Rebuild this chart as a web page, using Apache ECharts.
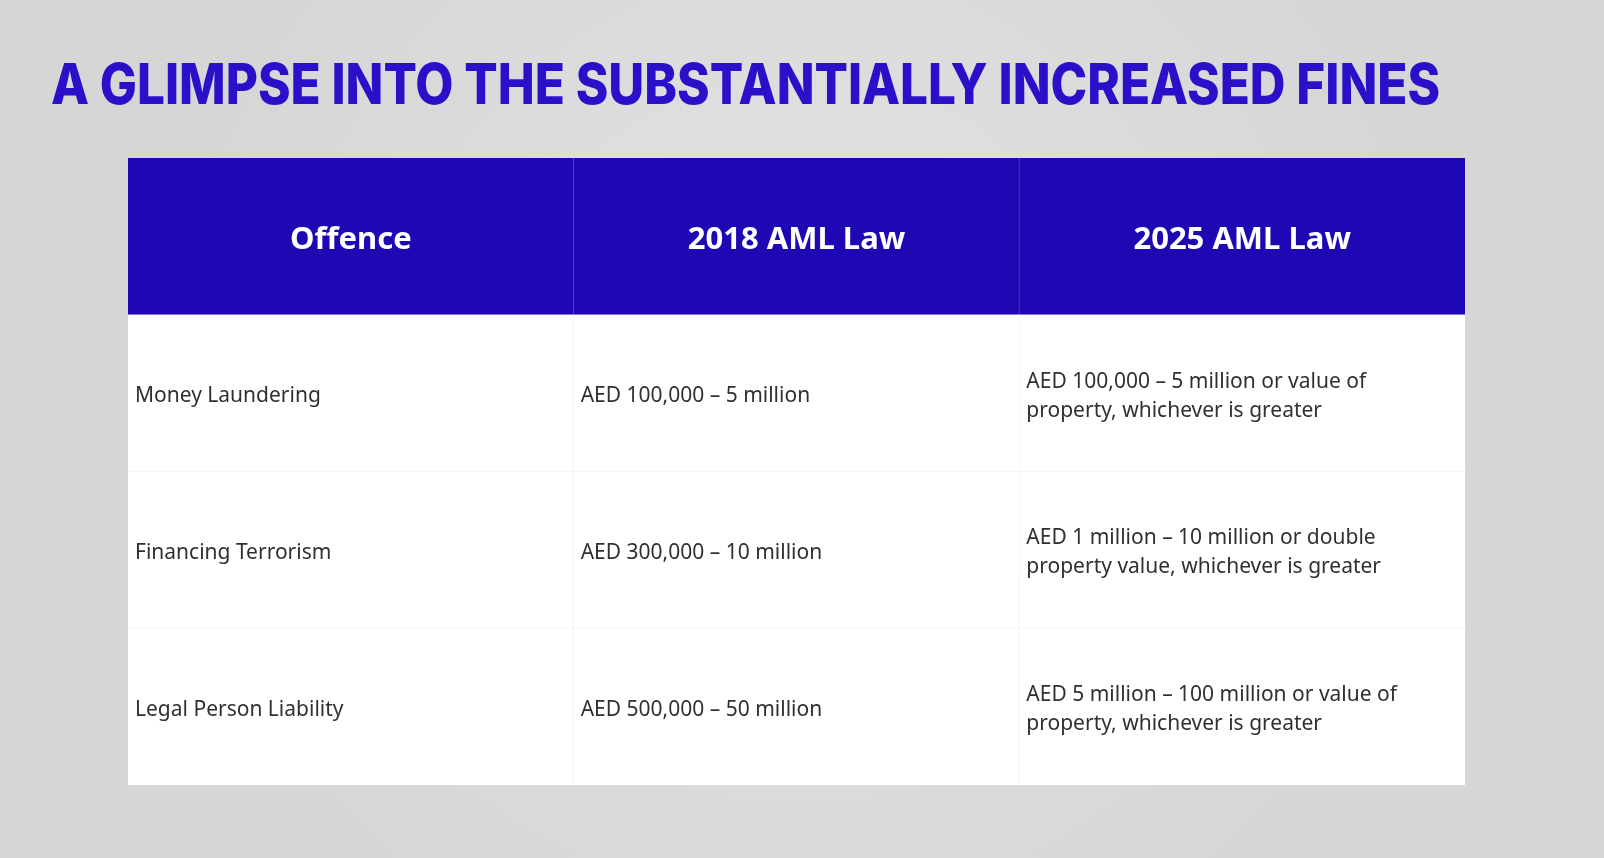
<!DOCTYPE html>
<html>
<head>
<meta charset="utf-8">
<title>AML fines</title>
<script src="https://cdn.jsdelivr.net/npm/echarts@6/dist/echarts.min.js"></script>
<style>
  html, body { margin: 0; padding: 0; background: #dcdcdc; }
  #main { width: 1604px; height: 858px; }
</style>
</head>
<body>
<div id="main"></div>
<script>
// table content
var titleText = 'A GLIMPSE INTO THE SUBSTANTIALLY INCREASED FINES';
var columns = ['Offence', '2018 AML Law', '2025 AML Law'];
var offences = ['Money Laundering', 'Financing Terrorism', 'Legal Person Liability'];
var fines2018 = [
  'AED 100,000 – 5 million',
  'AED 300,000 – 10 million',
  'AED 500,000 – 50 million'
];
var fines2025 = [
  'AED 100,000 – 5 million or value of\nproperty, whichever is greater',
  'AED 1 million – 10 million or double\nproperty value, whichever is greater',
  'AED 5 million – 100 million or value of\nproperty, whichever is greater'
];
var rows = ['header'].concat(offences);

var HEAD_BLUE = '#1e08b4';

// cells: [col, row, text]
var cells = [];
columns.forEach(function (c, i) { cells.push([i, 0, c]); });
offences.forEach(function (o, r) {
  cells.push([0, r + 1, o]);
  cells.push([1, r + 1, fines2018[r]]);
  cells.push([2, r + 1, fines2025[r]]);
});

// squeeze the title to the width it has in the picture
var titleFont = '800 56px Inter';
var ctx = document.createElement('canvas').getContext('2d');
ctx.font = titleFont;
var titleScale = 1389 / ctx.measureText(titleText).width;

function renderCell(params, api) {
  var col = api.value(0), row = api.value(1);
  var c = api.coord([col, row]);
  var s = api.size([1, 1]);
  var x0 = c[0] - s[0] / 2, y0 = c[1] - s[1] / 2;
  var isHead = row === 0;
  var children = [{
    type: 'rect',
    shape: { x: x0, y: y0, width: s[0], height: s[1] },
    style: { fill: isHead ? HEAD_BLUE : '#ffffff' }
  }];
  if (col < columns.length - 1) {
    children.push({
      type: 'line',
      shape: { x1: x0 + s[0], y1: y0, x2: x0 + s[0], y2: y0 + s[1] },
      style: { stroke: isHead ? '#6c5cc8' : '#ececec', lineWidth: 1 }
    });
  }
  if (isHead) {
    children.push({
      type: 'line',
      shape: { x1: x0, y1: y0 + s[1], x2: x0 + s[0], y2: y0 + s[1] },
      style: { stroke: '#5b4bd6', lineWidth: 1.5 }
    });
    children.push({
      type: 'text',
      style: {
        text: api.value(2), x: c[0], y: c[1] + 4,
        align: 'center', verticalAlign: 'middle',
        fill: '#ffffff', fontSize: 31, fontWeight: 'bold', fontFamily: 'Noto Sans'
      }
    });
  } else {
    if (row < rows.length - 1) {
      children.push({
        type: 'line',
        shape: { x1: x0, y1: y0 + s[1], x2: x0 + s[0], y2: y0 + s[1] },
        style: { stroke: '#efefef', lineWidth: 1 }
      });
    }
    children.push({
      type: 'text',
      style: {
        text: api.value(2), x: x0 + 7, y: c[1] + 3,
        align: 'left', verticalAlign: 'middle', lineHeight: 29,
        fill: '#303030', fontSize: 21, fontFamily: 'Noto Sans'
      }
    });
  }
  return { type: 'group', children: children };
}

var chart = echarts.init(document.getElementById('main'), null, { renderer: 'canvas' });
var option = {
  backgroundColor: '#dcdcdc',
  animation: false,
  graphic: [
    {
      type: 'rect', z: -10, silent: true,
      shape: { x: 0, y: 0, width: 1604, height: 858 },
      style: {
        fill: new echarts.graphic.RadialGradient(0.5, 0.45, 0.75, [
          { offset: 0, color: '#e4e4e4' },
          { offset: 1, color: '#d6d6d6' }
        ])
      }
    },
    {
      type: 'text', z: 10,
      x: 51, y: 87, scaleX: titleScale, originX: 0,
      style: {
        text: titleText, font: titleFont, fill: '#2a10c8',
        align: 'left', verticalAlign: 'middle',
        shadowColor: 'rgba(255,255,255,0.6)', shadowBlur: 3
      }
    }
  ],
  grid: { left: 128, top: 158, width: 1337, height: 627 },
  xAxis: {
    type: 'category', data: columns, show: false
  },
  yAxis: {
    type: 'category', data: rows, inverse: true, show: false
  },
  series: [{
    type: 'custom',
    renderItem: renderCell,
    data: cells,
    encode: { x: 0, y: 1 },
    clip: false
  }]
};
chart.setOption(option);
</script>
</body>
</html>
